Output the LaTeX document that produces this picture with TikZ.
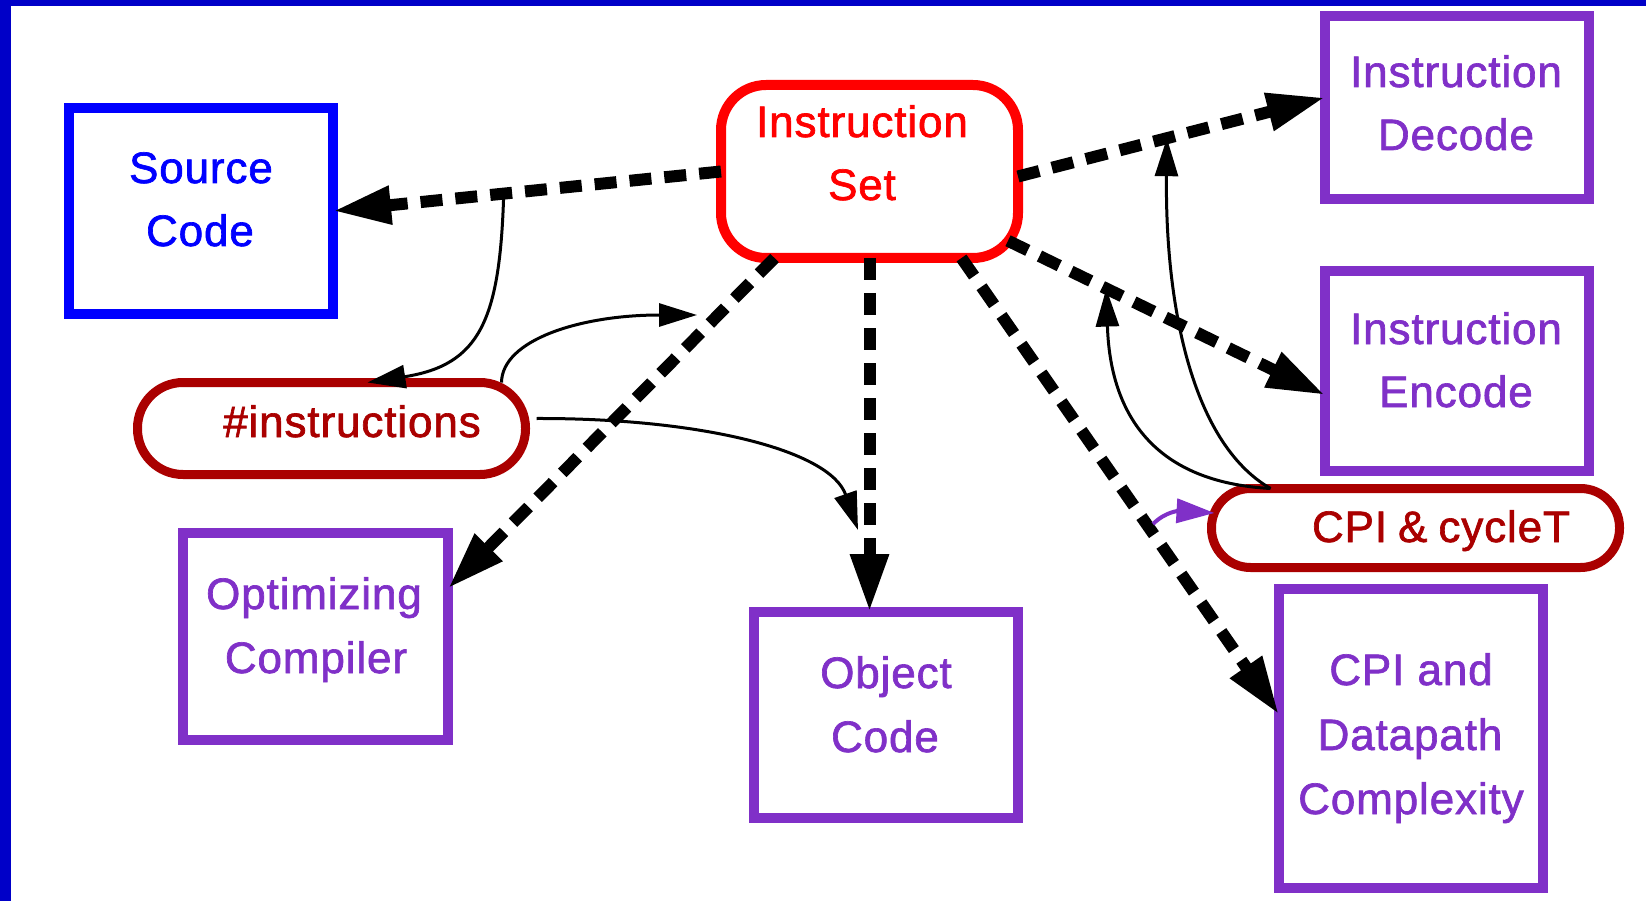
\documentclass[tikz,border=0pt]{standalone}
\usepackage{fontspec}
\setmainfont{Liberation Sans}[FakeBold=1.5, LetterSpace=2]
\usetikzlibrary{arrows.meta,calc}

\definecolor{frameblue}{RGB}{0,0,200}
\definecolor{srcblue}{RGB}{0,0,255}
\definecolor{isred}{RGB}{255,0,0}
\definecolor{boxpurple}{RGB}{128,48,200}
\definecolor{darkred}{RGB}{170,0,0}

\begin{document}
\begin{tikzpicture}[x=1pt,y=-1pt,
  box/.style={draw, line width=10pt, rectangle, inner sep=0pt, outer sep=0pt},
  pill/.style={draw=darkred, line width=9pt, rectangle, inner sep=0pt, outer sep=0pt},
  lbl/.style={anchor=base, inner sep=0pt, font=\fontsize{44}{53}\selectfont},
  bigarrow/.style={line width=12pt, dash pattern=on 22pt off 13pt,
    -{Triangle[length=58pt,width=36pt]}},
  thinarrow/.style={line width=3pt, -{Triangle[length=38pt,width=23pt]}},
]
% canvas and frame
\fill[white] (0,0) rectangle (1646,901);
\useasboundingbox (0,0) rectangle (1646,901);
\fill[frameblue] (0,0) rectangle (11,901);
\fill[frameblue] (0,0) rectangle (1646,6);

% boxes
\node[box, draw=srcblue, minimum width=264pt, minimum height=206pt] (src) at (201,211) {};
\node[box, draw=isred, rounded corners=45pt, minimum width=297pt, minimum height=173pt] (is) at (869.5,171.5) {};
\node[box, draw=boxpurple, minimum width=264pt, minimum height=183pt] (dec) at (1457,107.5) {};
\node[box, draw=boxpurple, minimum width=264pt, minimum height=200pt] (enc) at (1457,371) {};
\node[pill, rounded corners=39pt, minimum width=408pt, minimum height=79pt] (cpi) at (1415.5,528) {};
\node[box, draw=boxpurple, minimum width=264pt, minimum height=299pt] (dp) at (1411,738.5) {};
\node[box, draw=boxpurple, minimum width=265pt, minimum height=207pt] (oc) at (315.5,636.5) {};
\node[box, draw=boxpurple, minimum width=264pt, minimum height=206pt] (obj) at (886,715) {};
\node[pill, rounded corners=45.5pt, minimum width=388pt, minimum height=92pt] (ins) at (331.5,428.5) {};

% labels
\node[lbl, text=srcblue] (srcA) at (201,183) {Source};
\node[lbl, text=srcblue] (srcB) at (200,246) {Code};
\node[lbl, text=isred] (isA) at (862,137) {Instruction};
\node[lbl, text=isred] (isB) at (862,200) {Set};
\node[lbl, text=boxpurple] (decA) at (1456,87) {Instruction};
\node[lbl, text=boxpurple] (decB) at (1456,150) {Decode};
\node[lbl, text=boxpurple] (encA) at (1456,344) {Instruction};
\node[lbl, text=boxpurple] (encB) at (1456,407) {Encode};
\node[lbl, text=darkred] (cpiA) at (1441,542) {CPI\hspace{0.25em}\&\hspace{0.25em}cycleT};
\node[lbl, text=boxpurple] (dpA) at (1411,685) {CPI and};
\node[lbl, text=boxpurple] (dpB) at (1410,750) {Datapath};
\node[lbl, text=boxpurple] (dpC) at (1411,814) {Complexity};
\node[lbl, text=boxpurple] (ocA) at (314,609) {Optimizing};
\node[lbl, text=boxpurple] (ocB) at (316,673) {Compiler};
\node[lbl, text=boxpurple] (objA) at (886,688) {Object};
\node[lbl, text=boxpurple] (objB) at (885,752) {Code};
\node[lbl, text=darkred] (insA) at (352,437) {\#instructions};

% dashed dependencies from the instruction set
\draw[bigarrow] (is.west) -- coordinate[pos=0.56] (ja) (src.east);
\draw[bigarrow] ([yshift=-5pt]is.east) -- coordinate[pos=0.485] (je) ([yshift=10pt]dec.west);
\draw[bigarrow] ([xshift=-10pt]is.-25) -- coordinate[pos=0.31] (jd) ([yshift=-24pt]enc.west);
\draw[bigarrow] (is.south) -- (is.south |- obj.north);
\draw[bigarrow] ([xshift=92pt]is.south) -- ([yshift=24pt]dp.west);
\draw[bigarrow] ([xshift=-95pt]is.south) -- ([yshift=48pt]oc.east);

% free ends of the thin arrows
\coordinate (jb) at (697,315);
\coordinate (jc) at (858,530);
\coordinate (jf) at (1153,524);

% thin influence arrows
\draw[thinarrow] (ja) .. controls (500,320) and (480,365) .. ([xshift=36pt]ins.north);
\draw[thinarrow] ([xshift=170pt]ins.north) .. controls (502,340) and (580,315) .. (jb);
\draw[thinarrow] ([xshift=11pt,yshift=10pt]ins.east) .. controls (700,418) and (830,450) .. (jc);
\draw[thinarrow] ([xshift=-145pt]cpi.north) .. controls (1150,482) and (1110,410) .. (jd);
\draw[thinarrow] ([xshift=-145pt]cpi.north) .. controls (1190,442) and (1165,300) .. (je);
\draw[line width=4pt, boxpurple, -{Triangle[length=38pt,width=24pt]}]
  (jf) .. controls (1166,511) and (1180,511) .. ([xshift=3pt,yshift=15pt]cpi.west);
\end{tikzpicture}
\end{document}
